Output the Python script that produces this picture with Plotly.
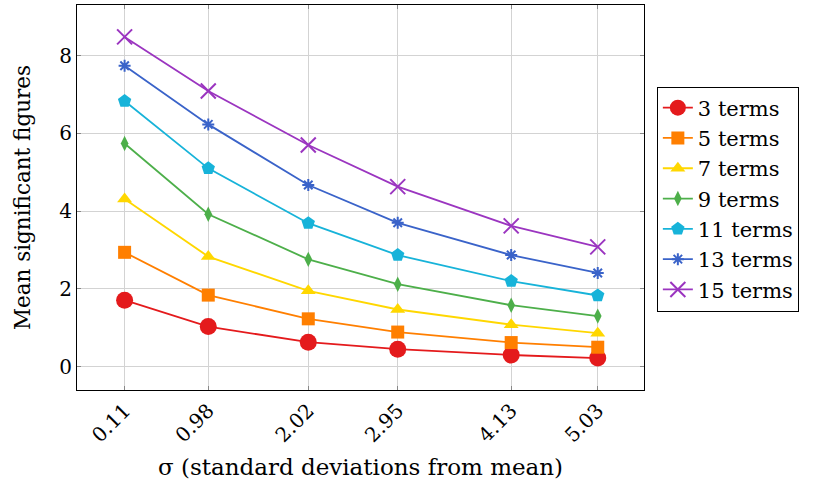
import plotly.graph_objects as go

sigma = [0.11, 0.98, 2.02, 2.95, 4.13, 5.03]
tick_labels = ["0.11", "0.98", "2.02", "2.95", "4.13", "5.03"]
names = ["3 terms", "5 terms", "7 terms", "9 terms", "11 terms", "13 terms", "15 terms"]
t3 = [1.71, 1.03, 0.63, 0.45, 0.30, 0.22]
t5 = [2.94, 1.84, 1.23, 0.89, 0.62, 0.50]
t7 = [4.31, 2.83, 1.95, 1.47, 1.08, 0.86]
t9 = [5.74, 3.92, 2.76, 2.12, 1.58, 1.30]
t11 = [6.83, 5.10, 3.69, 2.87, 2.20, 1.83]
t13 = [7.74, 6.23, 4.67, 3.70, 2.87, 2.41]
t15 = [8.48, 7.09, 5.70, 4.63, 3.62, 3.08]
series = [t3, t5, t7, t9, t11, t13, t15]

colors = ["#e41a1c", "#ff7f00", "#ffd700", "#4daf4a", "#17b3d9", "#3a63c9", "#9b35c0"]
symbols = ["circle", "square", "triangle-up", "diamond-tall", "pentagon", "asterisk-open", "x-thin-open"]
sizes = [17, 13, 13, 11, 14, 10, 15]

FONT = "DejaVu Serif"

fig = go.Figure()
for name, vals, c, s, sz in zip(names, series, colors, symbols, sizes):
    open_sym = s.endswith("-open")
    fig.add_trace(go.Scatter(
        x=sigma, y=vals, name=name, mode="lines+markers",
        line=dict(color=c, width=1.8),
        marker=dict(symbol=s, size=sz, color=c,
                    line=dict(color=c, width=2 if open_sym else 0)),
    ))

fig.update_layout(
    width=818, height=486,
    margin=dict(l=77, r=174, t=5, b=96),
    plot_bgcolor="white", paper_bgcolor="white",
    font=dict(family=FONT, size=20, color="black"),
    showlegend=True,
    legend=dict(
        xref="container", yref="container",
        x=0.803, y=0.822, xanchor="left", yanchor="top",
        bordercolor="black", borderwidth=1,
        font=dict(family=FONT, size=21),
        tracegroupgap=0, itemwidth=30,
    ),
    xaxis=dict(
        range=[-0.385, 5.511],
        tickvals=sigma, ticktext=tick_labels, tickangle=-45,
        showgrid=True, gridcolor="#d3d3d3", gridwidth=1,
        showline=True, linecolor="black", linewidth=1, mirror="allticks",
        ticks="inside", ticklen=4, tickcolor="#888888",
        zeroline=False,
        title=dict(text="σ (standard deviations from mean)", font=dict(size=23), standoff=12),
    ),
    yaxis=dict(
        range=[-0.6, 9.3],
        tickvals=[0, 2, 4, 6, 8],
        showgrid=True, gridcolor="#d3d3d3", gridwidth=1,
        showline=True, linecolor="black", linewidth=1, mirror="allticks",
        ticks="inside", ticklen=4, tickcolor="#888888",
        zeroline=False,
        title=dict(text="Mean significant figures", font=dict(size=21.5), standoff=22),
    ),
)

fig.write_html("out.html")
